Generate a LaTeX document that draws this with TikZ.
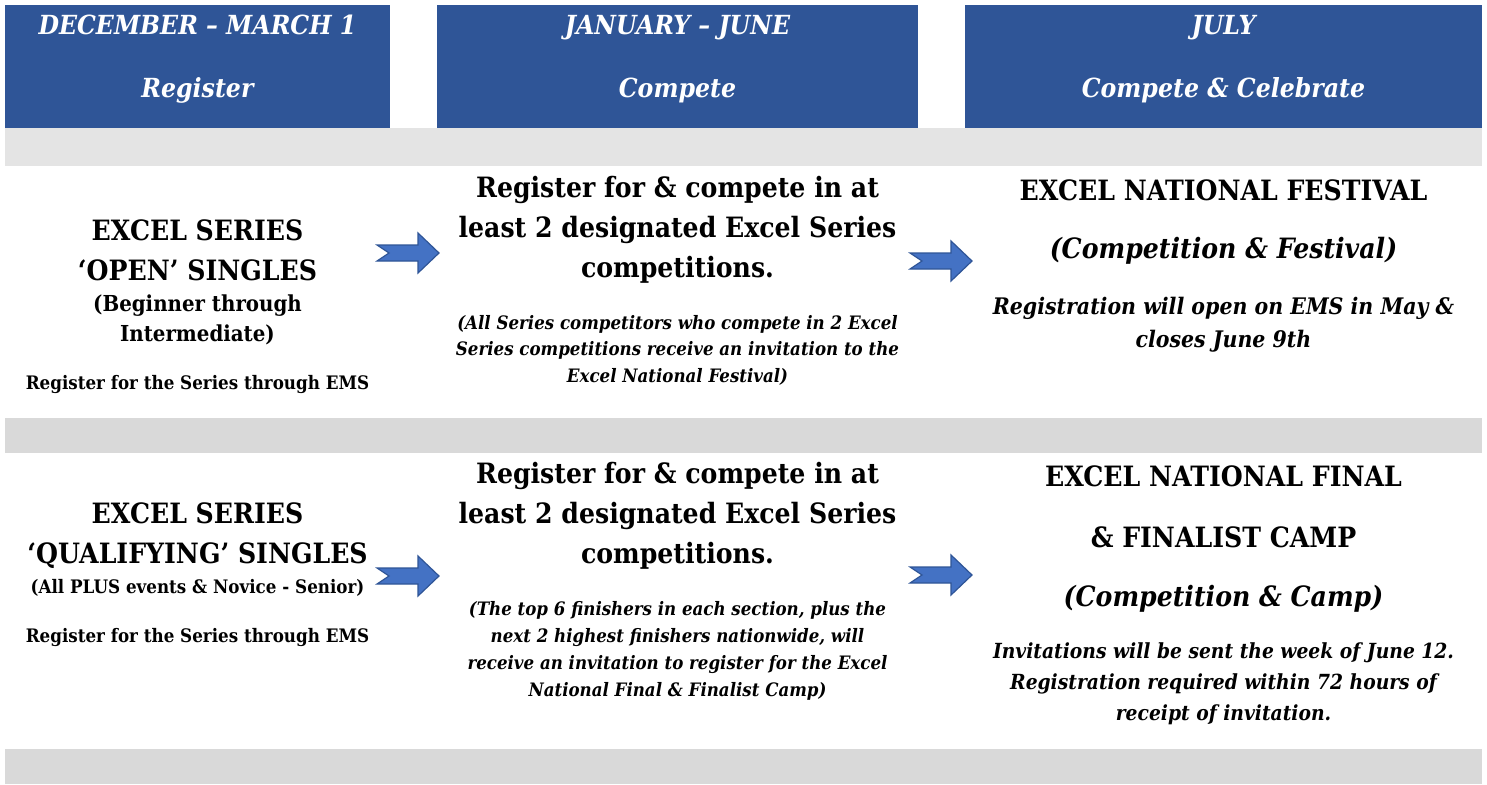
\documentclass[tikz,border=0pt]{standalone}
\usepackage{fontspec}
\setmainfont[FakeStretch=0.9]{DejaVu Serif}

\definecolor{hdrblue}{HTML}{2F5597}
\definecolor{arrblue}{HTML}{4472C4}
\definecolor{bandlight}{HTML}{E4E4E4}
\definecolor{bandgray}{HTML}{D9D9D9}

\tikzset{
 hdrbox/.style={fill=hdrblue, inner sep=0, minimum height=123pt},
 hdrtext/.style={text=white, align=center, inner sep=0, font=\fontsize{26.3}{63}\selectfont\bfseries\itshape},
 bigtitle/.style={align=center, inner sep=0, font=\fontsize{28}{40}\selectfont\bfseries},
 bigital/.style={align=center, inner sep=0, font=\fontsize{28}{40}\selectfont\bfseries\itshape},
 subtitle/.style={align=center, inner sep=0, font=\fontsize{22}{30}\selectfont\bfseries},
 smallnote/.style={align=center, inner sep=0, font=\fontsize{18.6}{26}\selectfont\bfseries},
 notetext/.style={align=center, inner sep=0, font=\fontsize{18.5}{26.5}\selectfont\bfseries\itshape},
 infotext/.style={align=center, inner sep=0, font=\fontsize{22.8}{33}\selectfont\bfseries\itshape},
 fwdarrow/.pic={
  \draw[fill=arrblue, draw=hdrblue, line width=1.2pt, line join=miter]
   (-31,-8) -- (10,-8) -- (10,-20) -- (31,0) -- (10,20) -- (10,8) -- (-31,8) -- (-19,0) -- cycle;
 }
}

\begin{document}
\begin{tikzpicture}[x=1pt, y=-1pt]
 \useasboundingbox (0,0) rectangle (1487,784);
 \fill[white] (0,0) rectangle (1487,784);

 % header row
 \node[hdrbox, minimum width=385pt] (hdrA) at (197.5,66.5) {};
 \node[hdrbox, minimum width=481pt] (hdrB) at (677.5,66.5) {};
 \node[hdrbox, minimum width=517pt] (hdrC) at (1223.5,66.5) {};
 \node[hdrtext] (hdrAtxt) at ([yshift=7.5pt]hdrA.center) {DECEMBER – MARCH 1\\Register};
 \node[hdrtext] (hdrBtxt) at ([yshift=7.5pt]hdrB.center) {JANUARY – JUNE\\Compete};
 \node[hdrtext] (hdrCtxt) at ([yshift=7.5pt]hdrC.center) {JULY\\Compete \& Celebrate};

 % grey bands
 \fill[bandlight] (5,128) rectangle (1482,166);
 \fill[bandgray] (5,418) rectangle (1482,453);
 \fill[bandgray] (5,749) rectangle (1482,784);

 % open singles row
 \node[bigtitle] (openA) at (197.5,250) {EXCEL SERIES\\‘OPEN’ SINGLES};
 \node[subtitle] (openAsub) at (197.5,319.5) {(Beginner through\\Intermediate)};
 \node[smallnote] (openAems) at (197.5,384) {Register for the Series through EMS};

 \node[bigtitle] (openB) at (677.5,230) {Register for \& compete in at\\least 2 designated Excel Series\\competitions.};
 \node[notetext] (openBnote) at (677.5,350) {(All Series competitors who compete in 2 Excel\\Series competitions receive an invitation to the\\Excel National Festival)};

 \node[bigtitle] (openC) at (1223.5,190) {EXCEL NATIONAL FESTIVAL};
 \node[bigital] (openCsub) at (1223.5,251) {(Competition \& Festival)};
 \node[infotext] (openCinfo) at (1223.5,324.5) {Registration will open on EMS in May \&\\closes June 9th};

 \pic at (408,253) {fwdarrow};
 \pic at (941,261) {fwdarrow};

 % qualifying singles row
 \node[bigtitle] (qualA) at (197.5,535.5) {EXCEL SERIES\\‘QUALIFYING’ SINGLES};
 \node[smallnote] (qualAsub) at (197.5,588) {(All PLUS events \& Novice - Senior)};
 \node[smallnote] (qualAems) at (197.5,637) {Register for the Series through EMS};

 \node[bigtitle] (qualB) at (677.5,516) {Register for \& compete in at\\least 2 designated Excel Series\\competitions.};
 \node[notetext, font=\fontsize{18.5}{27}\selectfont\bfseries\itshape] (qualBnote) at (677.5,650.5) {(The top 6 finishers in each section, plus the\\next 2 highest finishers nationwide, will\\receive an invitation to register for the Excel\\National Final \& Finalist Camp)};

 \node[bigtitle] (qualC) at (1223.5,476) {EXCEL NATIONAL FINAL};
 \node[bigtitle] (qualCsub) at (1223.5,537) {\& FINALIST CAMP};
 \node[bigital] (qualCcamp) at (1223.5,599) {(Competition \& Camp)};
 \node[infotext, font=\fontsize{20.8}{31}\selectfont\bfseries\itshape] (qualCinfo) at (1223.5,684) {Invitations will be sent the week of June 12.\\Registration required within 72 hours of\\receipt of invitation.};

 \pic at (408,576) {fwdarrow};
 \pic at (941,575) {fwdarrow};
\end{tikzpicture}
\end{document}
